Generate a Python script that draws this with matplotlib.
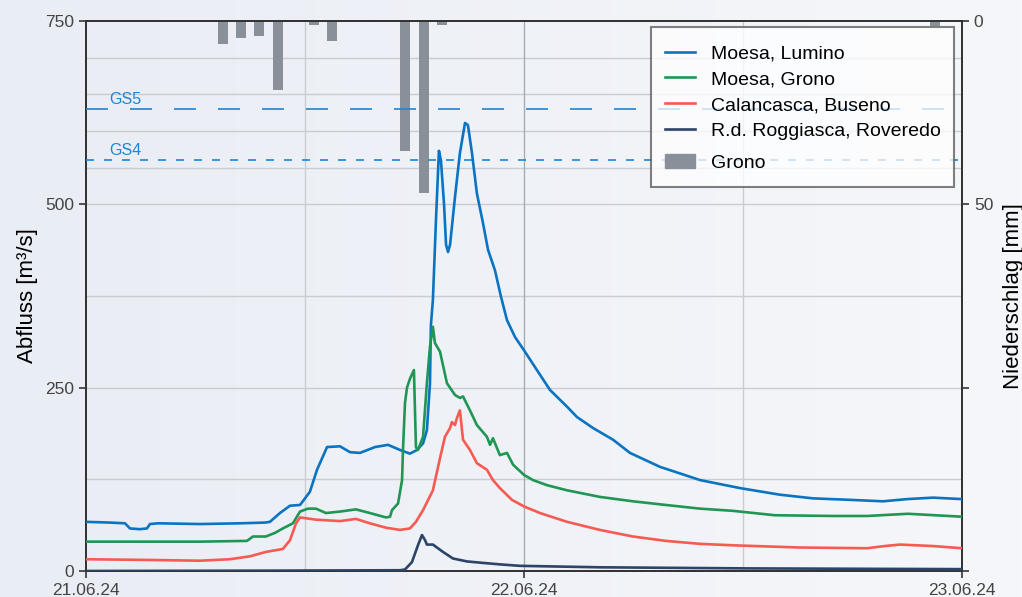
import numpy as np
import matplotlib
matplotlib.use('Agg')
import matplotlib.pyplot as plt
from matplotlib.lines import Line2D
from matplotlib.patches import Patch
from matplotlib.colors import LinearSegmentedColormap
from matplotlib.offsetbox import VPacker, DrawingArea

plt.rcParams['font.family'] = ['Liberation Sans', 'DejaVu Sans']

# Stunden ab 21.06.24 00:00
lumino_h = [0, 1.32, 2.14, 2.41, 2.96, 3.34, 3.51, 3.95, 6.25, 8.44, 9.81, 10.08, 10.63, 11.18,
            11.73, 12.27, 12.66, 13.21, 13.92, 14.47, 15.01, 15.84, 16.55, 17.21, 17.75, 18.14,
            18.47, 18.68, 18.85, 18.90, 19.01, 19.18, 19.34, 19.45, 19.62, 19.73, 19.84, 19.95,
            20.22, 20.49, 20.77, 20.93, 21.15, 21.42, 21.75, 22.03, 22.41, 22.74, 23.07, 23.51,
            24.0, 24.71, 25.42, 26.36, 26.90, 27.78, 28.88, 29.81, 31.45, 32.55, 33.64, 35.84,
            38.03, 39.84, 41.86, 43.67, 44.99, 46.41, 48.0]
lumino_q = [67, 66, 65, 58, 57, 58, 64, 65, 64, 65, 66, 67, 79, 89,
            90, 108, 138, 169, 170, 162, 161, 169, 172, 165, 160, 165,
            174, 192, 256, 335, 370, 480, 573, 560, 500, 445, 435, 445,
            510, 570, 611, 608, 570, 515, 475, 438, 410, 374, 342, 319,
            301, 274, 247, 224, 210, 195, 179, 161, 142, 133, 124, 113,
            104, 99, 97, 95, 98, 100, 98]

grono_h = [0, 3.51, 6.25, 8.82, 9.15, 9.86, 10.36, 10.79, 11.34, 11.73, 12.16, 12.60, 13.15,
           13.92, 14.79, 15.56, 16.44, 16.66, 16.77, 17.10, 17.32, 17.37, 17.48, 17.59, 17.75,
           17.97, 18.08, 18.19, 18.47, 18.68, 18.85, 19.01, 19.12, 19.40, 19.78, 20.22, 20.49,
           20.66, 21.04, 21.42, 21.97, 22.14, 22.30, 22.68, 23.07, 23.40, 24.0, 24.49, 25.26,
           26.36, 28.16, 29.97, 31.78, 33.64, 35.45, 37.75, 40.93, 42.79, 45.04, 48.0]
grono_q = [40, 40, 40, 41, 47, 47, 52, 58, 65, 81, 85, 85, 79,
           81, 84, 79, 73, 74, 83, 92, 124, 165, 229, 250, 262,
           274, 169, 165, 183, 256, 306, 333, 311, 299, 256, 240, 236,
           238, 219, 199, 183, 172, 181, 158, 161, 145, 131, 124, 117,
           110, 101, 95, 90, 85, 82, 76, 75, 75, 78, 74]

buseno_h = [0, 3.51, 6.25, 7.89, 8.99, 9.86, 10.79, 11.18, 11.51, 11.73, 12.60, 13.92, 14.79,
            15.56, 16.44, 17.21, 17.75, 18.08, 18.47, 19.01, 19.40, 19.67, 19.95, 20.05, 20.22,
            20.33, 20.49, 20.66, 21.04, 21.42, 21.97, 22.30, 22.68, 23.34, 24.0, 24.88, 26.36,
            28.16, 29.97, 31.78, 33.64, 35.45, 39.12, 42.79, 43.78, 44.60, 46.41, 48.0]
buseno_q = [16, 15, 14, 16, 20, 26, 30, 42, 65, 73, 70, 68, 71,
            65, 59, 56, 58, 67, 83, 110, 154, 183, 195, 203, 199,
            209, 219, 179, 165, 147, 138, 124, 113, 97, 88, 79, 67,
            56, 47, 41, 37, 35, 32, 31, 34, 36, 34, 31]

roveredo_h = [0, 10.63, 17.21, 17.48, 17.86, 18.19, 18.41, 18.58, 18.68, 19.01, 19.56, 20.11,
              20.88, 21.75, 22.68, 23.78, 28.16, 36.38, 48.0]
roveredo_q = [0, 0.5, 1, 2, 12, 35, 49, 42, 36, 36, 26, 17,
              13, 11, 9, 7, 5, 3.5, 2.5]

# Niederschlag Grono, Stundensummen
rain_h = [7.5, 8.5, 9.5, 10.5, 12.5, 13.5, 15.5, 17.5, 18.5, 19.5, 46.5]
rain_mm = [6.3, 4.5, 4.0, 18.9, 1.1, 5.4, 0.3, 35.4, 46.8, 1.2, 1.3]

gs5, gs4 = 630, 560
date_labels = ['21.06.24', '22.06.24', '23.06.24']

c_lumino = '#0a74c2'
c_grono = '#1f9654'
c_buseno = '#f65a52'
c_roveredo = '#2c4468'
c_rain = '#8a9099'
c_gs = '#1c86d6'

fig = plt.figure(figsize=(10.22, 5.97), dpi=100)

# hintergrund mit leichtem verlauf
bg = fig.add_axes([0, 0, 1, 1], zorder=-10)
cmap = LinearSegmentedColormap.from_list('bg', ['#e9edf4', '#f6f7fa'])
bg.imshow(np.linspace(0, 1, 256)[None, :], aspect='auto', cmap=cmap, extent=[0, 1, 0, 1])
bg.axis('off')

ax2 = fig.add_axes([0.0841, 0.0436, 0.8572, 0.9212])
ax = ax2.twinx()
ax.yaxis.tick_left()
ax.yaxis.set_label_position('left')
ax2.yaxis.tick_right()
ax2.yaxis.set_label_position('right')
ax2.patch.set_visible(False)
ax.patch.set_visible(False)

# niederschlag
ax2.bar(rain_h, rain_mm, width=0.55, color=c_rain, zorder=2)
ax2.set_ylim(150, 0)
ax2.set_yticks([0, 50, 100, 150])
ax2.set_yticklabels(['0', '50', '', ''])
ax2.set_ylabel('Niederschlag [mm]', fontsize=16, labelpad=7)

# abfluss
ax.axhline(gs5, color=c_gs, lw=1.2, ls=(0, (13.2, 13.2)), zorder=3)
ax.axhline(gs4, color=c_gs, lw=1.2, ls=(0, (4.8, 6)), zorder=3)
ax.text(1.3, gs5 + 3, 'GS5', color=c_gs, fontsize=11.5, va='bottom')
ax.text(1.3, gs4 + 3, 'GS4', color=c_gs, fontsize=11.5, va='bottom')

ax.plot(lumino_h, lumino_q, color=c_lumino, lw=1.9, zorder=5)
ax.plot(grono_h, grono_q, color=c_grono, lw=1.9, zorder=5)
ax.plot(buseno_h, buseno_q, color=c_buseno, lw=1.9, zorder=5)
ax.plot(roveredo_h, roveredo_q, color=c_roveredo, lw=1.9, zorder=5)

ax.set_ylim(0, 750)
ax.set_xlim(0, 48)
ax.set_yticks([0, 250, 500, 750])
ax.set_ylabel('Abfluss [m³/s]', fontsize=16, labelpad=5)
ax2.set_xticks([0, 24, 48])
ax2.set_xticklabels(date_labels)

# gitter
for yv in [125, 250, 375, 500, 550, 600, 650, 700]:
    ax2.axhline((750 - yv) / 5, color='#c9ccd1', lw=1, zorder=0)
for xv in [12, 36]:
    ax2.axvline(xv, color='#c9ccd1', lw=1, zorder=0)
ax2.axvline(24, color='#a9abaf', lw=1, zorder=0)

for a in (ax, ax2):
    for s in a.spines.values():
        s.set_color('#333333')
        s.set_linewidth(1.3)
    a.tick_params(labelsize=12.5, colors='#444444', length=5, width=1.3)

handles = [Line2D([], [], color=c_lumino, lw=1.9),
           Line2D([], [], color=c_grono, lw=1.9),
           Line2D([], [], color=c_buseno, lw=1.9),
           Line2D([], [], color=c_roveredo, lw=1.9),
           Patch(color=c_rain)]
labels = ['Moesa, Lumino', 'Moesa, Grono', 'Calancasca, Buseno',
          'R.d. Roggiasca, Roveredo', 'Grono']
leg = ax.legend(handles, labels, loc='upper right', bbox_to_anchor=(0.991, 0.989),
                borderaxespad=0, fontsize=14, fancybox=False, framealpha=0.75,
                edgecolor='#555555', handlelength=1.55, handletextpad=0.8,
                labelspacing=0.42, borderpad=0.7)
leg.get_frame().set_linewidth(1.5)
leg.set_zorder(20)

# mehr abstand oben/unten und vor dem niederschlag-eintrag
try:
    col = leg._legend_handle_box.get_children()[0]
    entries = col.get_children()
    last = entries[-1]
    gap = VPacker(children=[DrawingArea(1, 4.5), last, DrawingArea(1, 1)],
                  sep=0, pad=0, align='left')
    gap.set_figure(fig)
    entries[-1] = gap
    top = VPacker(children=[DrawingArea(1, 3), entries[0]], sep=0, pad=0, align='left')
    top.set_figure(fig)
    entries[0] = top
except Exception:
    pass

fig.savefig('out.png', dpi=100)
